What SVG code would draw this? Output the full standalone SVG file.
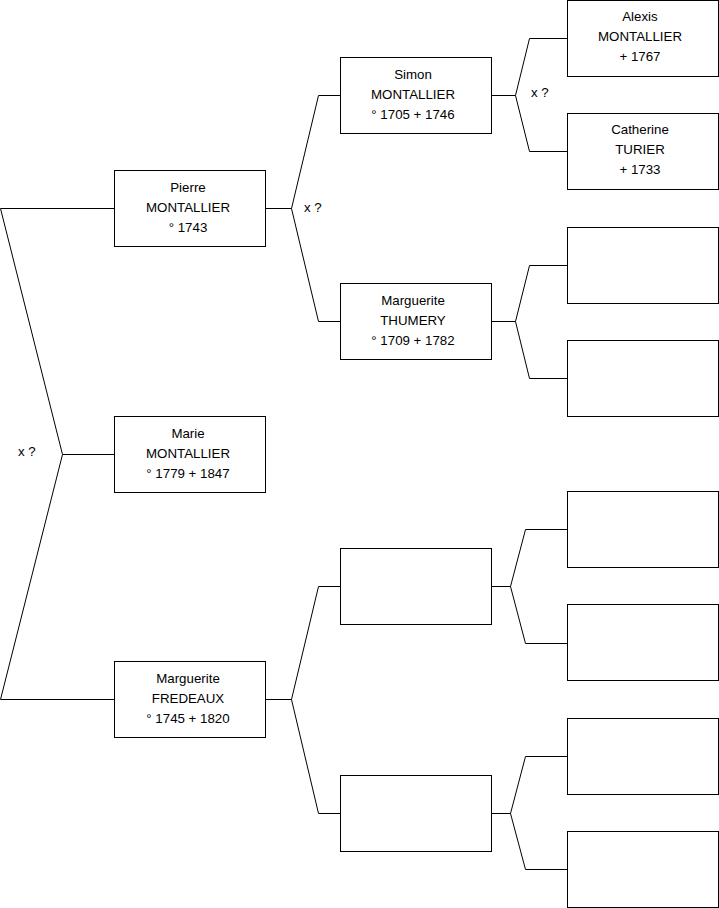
<svg xmlns="http://www.w3.org/2000/svg" width="719" height="908" viewBox="0 0 719 908">
<style>
.box{fill:#fff;stroke:#000;stroke-width:1}
.ln{fill:none;stroke:#000;stroke-width:1}
text{font-family:"Liberation Sans",Arial,sans-serif;font-size:13.3px;fill:#000}
.c{text-anchor:middle}
</style>
<rect width="719" height="908" fill="#fff"/>
<g id="connectors">
<path class="ln" d="M0.5,208.5H114M0.5,208.5L62.5,454.5L0.5,699.5H114M62.5,454.5H114"/>
<path class="ln" d="M265,208.5H291.5L318.5,95.5H340M291.5,208.5L318.5,321.5H340"/>
<path class="ln" d="M265,699.5H291.5L318.5,586.5H340M291.5,699.5L318.5,813.5H340"/>
<path class="ln" d="M491,95.5H515.5L529.5,38.5H567M515.5,95.5L529.5,151.5H567"/>
<path class="ln" d="M491,321.5H515.5L529.5,265.5H567M515.5,321.5L529.5,378.5H567"/>
<path class="ln" d="M491,586.5H510.5L525.5,529.5H567M510.5,586.5L525.5,643.5H567"/>
<path class="ln" d="M491,813.5H510.5L525.5,756.5H567M510.5,813.5L525.5,869.5H567"/>
<text x="18" y="456">x ?</text>
<text x="304" y="212">x ?</text>
<text x="531" y="97">x ?</text>
</g>
<g id="pierre"><rect class="box" x="114.5" y="170.5" width="151" height="76"/>
<text class="c" x="188" y="192">Pierre</text><text class="c" x="188" y="212">MONTALLIER</text><text class="c" x="188" y="232">° 1743</text></g>
<g id="marie"><rect class="box" x="114.5" y="416.5" width="151" height="76"/>
<text class="c" x="188" y="438">Marie</text><text class="c" x="188" y="458">MONTALLIER</text><text class="c" x="188" y="478">° 1779 + 1847</text></g>
<g id="marguerite-f"><rect class="box" x="114.5" y="661.5" width="151" height="76"/>
<text class="c" x="188" y="683">Marguerite</text><text class="c" x="188" y="703">FREDEAUX</text><text class="c" x="188" y="723">° 1745 + 1820</text></g>
<g id="simon"><rect class="box" x="340.5" y="57.5" width="151" height="76"/>
<text class="c" x="413" y="79">Simon</text><text class="c" x="413" y="99">MONTALLIER</text><text class="c" x="413" y="119">° 1705 + 1746</text></g>
<g id="marguerite-t"><rect class="box" x="340.5" y="283.5" width="151" height="76"/>
<text class="c" x="413" y="305">Marguerite</text><text class="c" x="413" y="325">THUMERY</text><text class="c" x="413" y="345">° 1709 + 1782</text></g>
<g id="empty-f1"><rect class="box" x="340.5" y="548.5" width="151" height="76"/></g>
<g id="empty-f2"><rect class="box" x="340.5" y="775.5" width="151" height="76"/></g>
<g id="alexis"><rect class="box" x="567.5" y="0.5" width="151" height="76"/>
<text class="c" x="640" y="21">Alexis</text><text class="c" x="640" y="41">MONTALLIER</text><text class="c" x="640" y="61">+ 1767</text></g>
<g id="catherine"><rect class="box" x="567.5" y="113.5" width="151" height="76"/>
<text class="c" x="640" y="134">Catherine</text><text class="c" x="640" y="154">TURIER</text><text class="c" x="640" y="174">+ 1733</text></g>
<g id="empty-t1"><rect class="box" x="567.5" y="227.5" width="151" height="76"/></g>
<g id="empty-t2"><rect class="box" x="567.5" y="340.5" width="151" height="76"/></g>
<g id="empty-g1"><rect class="box" x="567.5" y="491.5" width="151" height="76"/></g>
<g id="empty-g2"><rect class="box" x="567.5" y="604.5" width="151" height="76"/></g>
<g id="empty-g3"><rect class="box" x="567.5" y="718.5" width="151" height="76"/></g>
<g id="empty-g4"><rect class="box" x="567.5" y="831.5" width="151" height="76"/></g>
</svg>
